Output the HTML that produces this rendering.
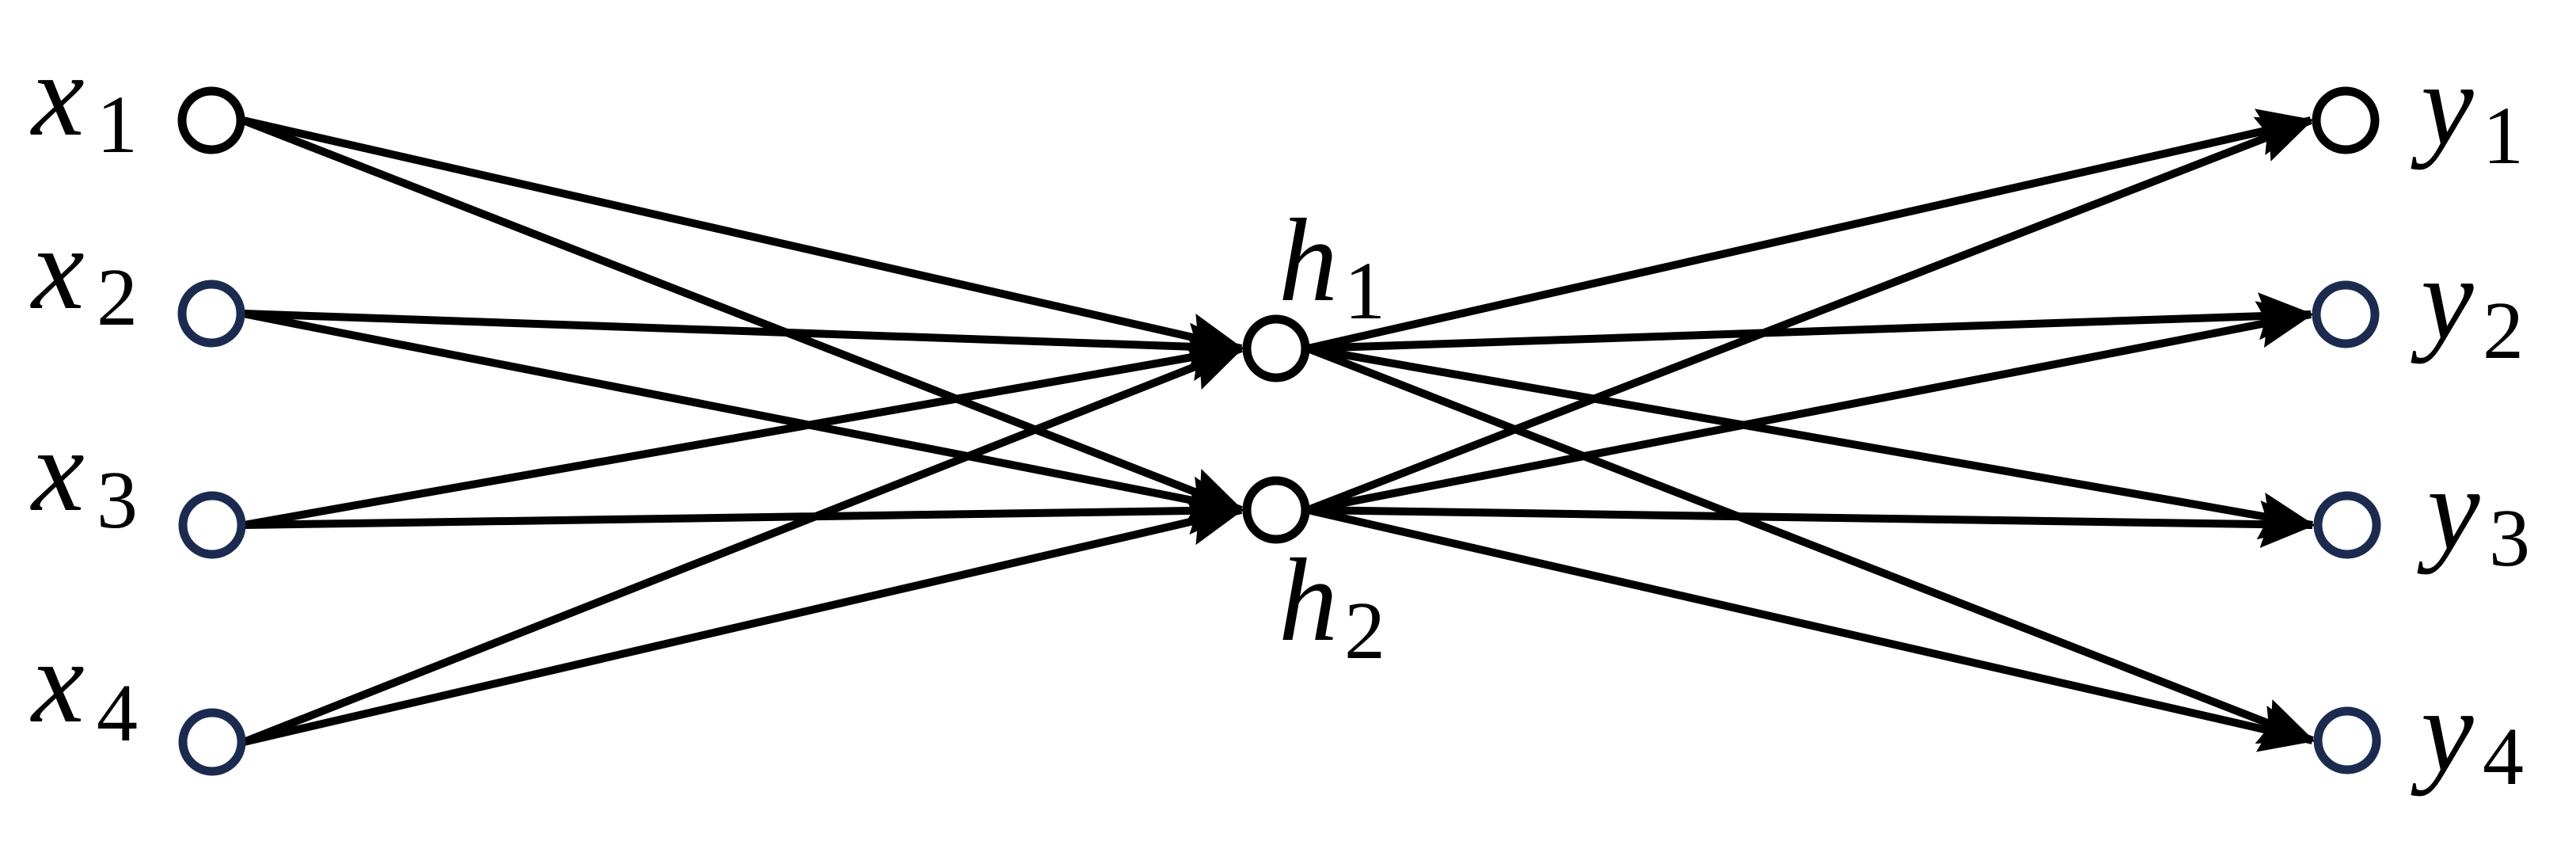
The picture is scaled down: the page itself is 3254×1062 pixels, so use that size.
<!DOCTYPE html>
<html><head><meta charset="utf-8"><style>
html,body{margin:0;padding:0;background:#fff;}
svg{display:block;}
text{font-family:"Liberation Serif",serif;fill:#000;}
.v{font-style:italic;font-size:150px;}
.s{font-size:104px;}
</style></head><body>
<svg id="chart" width="3254" height="1062" viewBox="0 0 3254 1062" xmlns="http://www.w3.org/2000/svg">
<defs>
<marker id="arr" markerWidth="7" markerHeight="6" refX="6.6" refY="3" orient="auto" markerUnits="strokeWidth">
<path d="M0,0 L7,3 L0,6 L1,3 Z" fill="#000"/>
</marker>
</defs>
<g id="edges"></g>
<g id="nodes"></g>
<g id="labels"></g>
</svg>
<script>
const inputNames = ["x","x","x","x"];
const inputSubs = ["1","2","3","4"];
const inputX = [267, 267, 268, 268];
const inputY = [152, 396, 663, 937];
const inputColors = ["#000","#1b2b50","#1b2b50","#1b2b50"];
const hiddenSubs = ["1","2"];
const hiddenX = [1612, 1612];
const hiddenY = [440, 644];
const hiddenColors = ["#000","#000"];
const outputSubs = ["1","2","3","4"];
const outputX = [2963, 2963, 2965, 2965];
const outputY = [152, 397, 663, 935];
const outputColors = ["#000","#1b2b50","#1b2b50","#1b2b50"];

const NS="http://www.w3.org/2000/svg";
const gE=document.getElementById('edges'), gN=document.getElementById('nodes'), gL=document.getElementById('labels');
function edge(x1,y1,x2,y2,name){
  const l=document.createElementNS(NS,'line');
  
  
  l.setAttribute('x1',x1+40);l.setAttribute('y1',y1);
  l.setAttribute('x2',x2-44);l.setAttribute('y2',y2);
  l.setAttribute('stroke','#000');l.setAttribute('stroke-width','10');
  l.setAttribute('marker-end','url(#arr)');
  gE.appendChild(l);
}
for(let i=0;i<inputY.length;i++)for(let j=0;j<hiddenY.length;j++)
  edge(inputX[i],inputY[i],hiddenX[j],hiddenY[j],'edge-x'+inputSubs[i]+'-h'+hiddenSubs[j]);
for(let j=0;j<hiddenY.length;j++)for(let k=0;k<outputY.length;k++)
  edge(hiddenX[j],hiddenY[j],outputX[k],outputY[k],'edge-h'+hiddenSubs[j]+'-y'+outputSubs[k]);
function node(cx,cy,col,name){
  const c=document.createElementNS(NS,'circle');
  
  
  c.setAttribute('cx',cx);c.setAttribute('cy',cy);c.setAttribute('r',37);
  c.setAttribute('fill','#fff');c.setAttribute('stroke',col);c.setAttribute('stroke-width','11');
  gN.appendChild(c);
}
inputY.forEach((y,i)=>node(inputX[i],y,inputColors[i],'node-x'+inputSubs[i]));
hiddenY.forEach((y,i)=>node(hiddenX[i],y,hiddenColors[i],'node-h'+hiddenSubs[i]));
outputY.forEach((y,i)=>node(outputX[i],y,outputColors[i],'node-y'+outputSubs[i]));
function label(letter,sub,x,y,sx,sy,name){
  const t=document.createElementNS(NS,'text');
  
  
  t.setAttribute('x',x);t.setAttribute('y',y);t.setAttribute('class','v');
  t.textContent=letter;
  const s=document.createElementNS(NS,'tspan');
  s.setAttribute('class','s');s.setAttribute('x',sx);s.setAttribute('y',sy);
  s.setAttribute('font-style','normal');
  s.textContent=sub;
  t.appendChild(s);
  gL.appendChild(t);
}
const inBase=[18,-7,-19,-26], inSubBase=[40,14,3,-2];
inputY.forEach((y,i)=>label('x',inputSubs[i],40,y+inBase[i],122,y+inSubBase[i],'label-x'+inputSubs[i]));
label('h',hiddenSubs[0],1615,379,1698,402,'label-h1');
label('h',hiddenSubs[1],1615,808,1698,831,'label-h2');
const outBase=[30,30,30,38], outSubBase=[54,55,51,55];
outputY.forEach((y,i)=>label('y',outputSubs[i],3058+(i==2?8:0),y+outBase[i],3136+(i==2?8:0),y+outSubBase[i],'label-y'+outputSubs[i]));
</script>
</body></html>
